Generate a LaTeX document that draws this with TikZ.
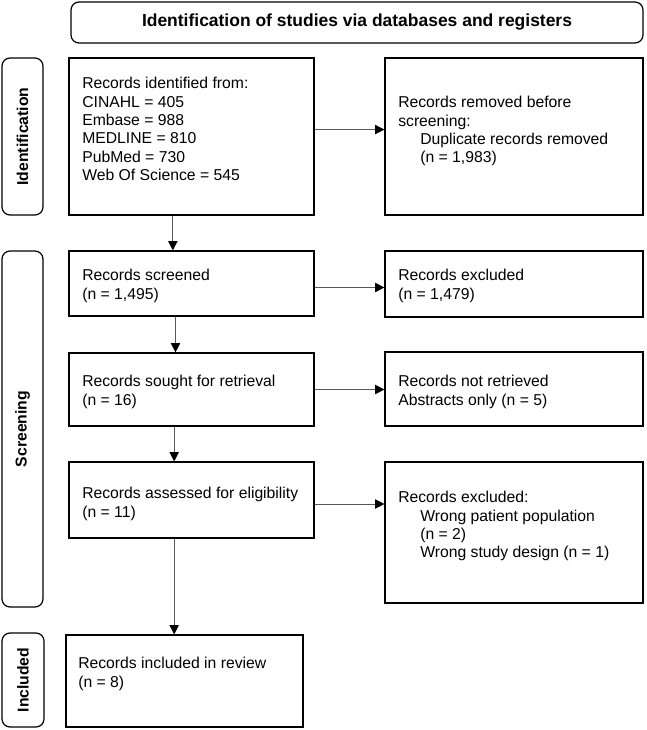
\documentclass[tikz,border=0pt]{standalone}
\usepackage{fontspec}
\setmainfont{Liberation Sans}
\usetikzlibrary{fit,arrows.meta}
\begin{document}
\begin{tikzpicture}[x=0.75pt,y=-0.75pt,
  box/.style={draw=black,line width=0.9pt,inner sep=0pt},
  rbox/.style={box,rounded corners=6pt},
  txt/.style={anchor=north west,inner sep=0pt,align=left,font=\fontsize{11.8pt}{13.8pt}\selectfont},
  lab/.style={rotate=90,inner sep=0pt,font=\bfseries\fontsize{11.8pt}{14pt}\selectfont},
  arr/.style={draw=black!65,line width=0.75pt,-{Triangle[length=7pt,width=7pt,color=black]}}
]
\useasboundingbox (0,0) rectangle (646,730);

% header
\node[rbox,fit={(71,2) (643,43)}] (header) {};
\node[font=\bfseries\fontsize{13.1pt}{15pt}\selectfont] (headertxt) at (header.center) {Identification of studies via databases and registers};

% side labels
\node[rbox,fit={(2,58) (43,215)}] (idlab) {};
\node[lab] (idlabtxt) at (idlab.center) {Identification};
\node[rbox,fit={(2,251) (43,607)}] (sclab) {};
\node[lab] (sclabtxt) at (sclab.center) {Screening};
\node[rbox,fit={(2,633) (44,727)}] (inlab) {};
\node[lab] (inlabtxt) at (inlab.center) {Included};

% boxes
\node[box,fit={(69,58) (314,215)}] (ident) {};
\node[box,fit={(385,58) (643,215)}] (removed) {};
\node[box,fit={(69,251) (314,316)}] (screened) {};
\node[box,fit={(385,251) (643,317)}] (excl1) {};
\node[box,fit={(69,353) (314,426)}] (sought) {};
\node[box,fit={(385,352) (643,426)}] (notret) {};
\node[box,fit={(69,462) (314,538)}] (assessed) {};
\node[box,fit={(385,462) (643,603)}] (excl2) {};
\node[box,fit={(66,635) (303,727)}] (included) {};

% texts
\node[txt] (identtxt) at (82,77) {Records identified from:\\CINAHL = 405\\Embase = 988\\MEDLINE = 810\\PubMed = 730\\Web Of Science = 545};
\node[txt] (removedtxt) at (398,96) {Records removed before\\screening:\\\hspace*{16.5pt}Duplicate records removed\\\hspace*{16.5pt}(n = 1,983)};
\node[txt] (screenedtxt) at (82,269) {Records screened\\(n = 1,495)};
\node[txt] (excl1txt) at (398,269) {Records excluded\\(n = 1,479)};
\node[txt] (soughttxt) at (82,375) {Records sought for retrieval\\(n = 16)};
\node[txt] (notrettxt) at (398,375) {Records not retrieved\\Abstracts only (n = 5)};
\node[txt] (assessedtxt) at (82,487) {Records assessed for eligibility\\(n = 11)};
\node[txt] (excl2txt) at (398,491) {Records excluded:\\\hspace*{16.5pt}Wrong patient population\\\hspace*{16.5pt}(n = 2)\\\hspace*{16.5pt}Wrong study design (n = 1)};
\node[txt] (includedtxt) at (78,657) {Records included in review\\(n = 8)};

% connectors
\draw[arr] ([yshift=5.2pt]ident.east) -- ([yshift=5.2pt]removed.west);
\draw[arr] ([xshift=-14pt]ident.south) -- ([xshift=-14pt]ident.south |- screened.north);
\draw[arr] ([yshift=-3pt]screened.east) -- ([yshift=-3pt]screened.east -| excl1.west);
\draw[arr] ([xshift=-12pt]screened.south) -- ([xshift=-12pt]screened.south |- sought.north);
\draw[arr] (sought.east) -- (sought.east -| notret.west);
\draw[arr] ([xshift=-13pt]sought.south) -- ([xshift=-13pt]sought.south |- assessed.north);
\draw[arr] ([yshift=-3pt]assessed.east) -- ([yshift=-3pt]assessed.east -| excl2.west);
\draw[arr] ([xshift=-13pt]assessed.south) -- ([xshift=-13pt]assessed.south |- included.north);
\end{tikzpicture}
\end{document}
